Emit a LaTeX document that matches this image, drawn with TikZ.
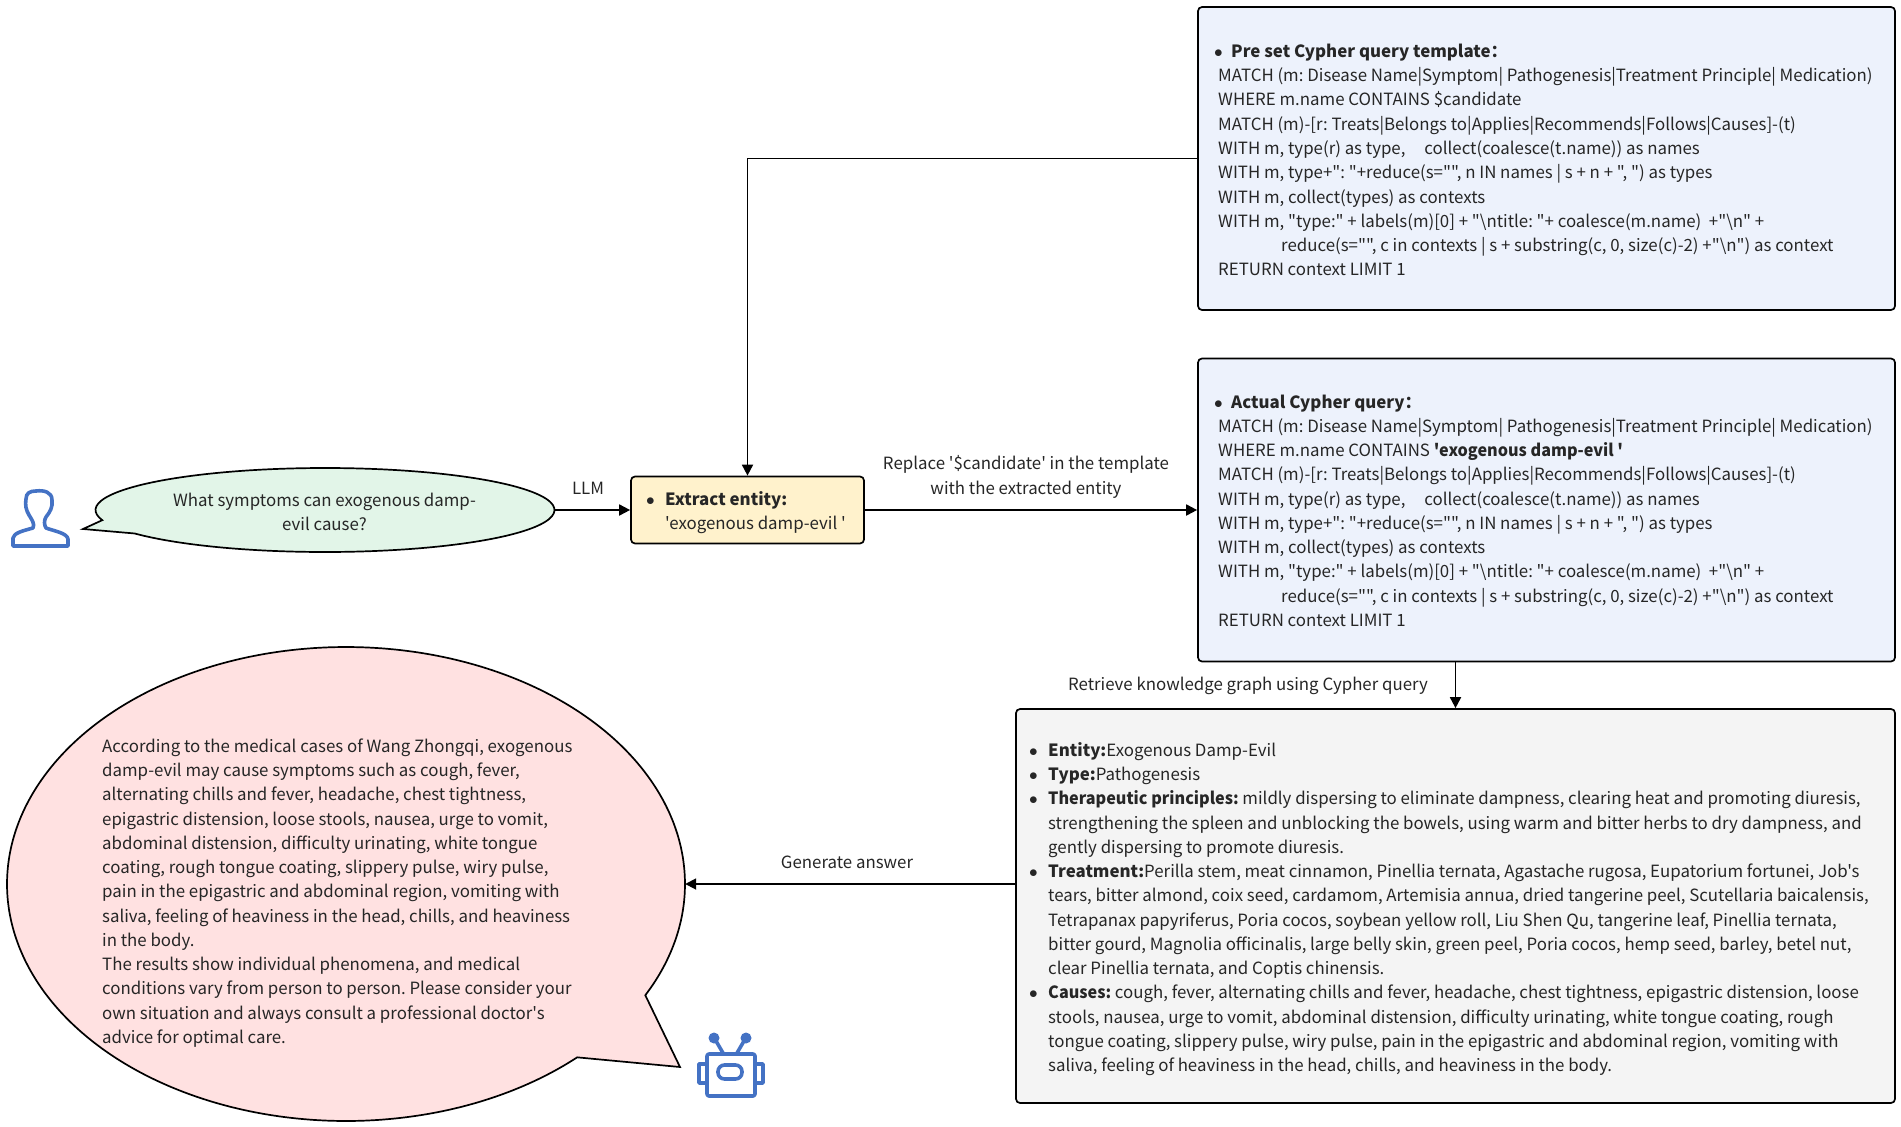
\documentclass[tikz,border=0pt]{standalone}
\usepackage{fontspec}
\setmainfont[Ligatures=TeXOff]{Noto Sans CJK SC}
\usetikzlibrary{arrows.meta,shapes.geometric,calc}
\definecolor{icon}{HTML}{4472C4}
\definecolor{ink}{HTML}{262626}
\definecolor{fgreen}{HTML}{E2F5E8}
\definecolor{fyellow}{HTML}{FFF2CC}
\definecolor{fblue}{HTML}{EDF2FC}
\definecolor{fgray}{HTML}{F4F4F4}
\definecolor{fpink}{HTML}{FFE1E1}
\newcommand{\bul}[1]{\makebox[#1][l]{$\bullet$}}
\newcommand{\hangln}{\hspace*{19pt}}
\newcommand{\bs}{\textbackslash}
\newcommand{\narrowbold}[1]{\scalebox{.96}[1]{\textbf{#1}}}
\tikzset{
  panel/.style={draw=black,line width=1.7pt,rounded corners=4pt,inner sep=0pt},
  txt/.style={text=ink,inner sep=0pt,align=left,font=\fontsize{16.85}{24.25}\selectfont\frenchspacing},
  ctxt/.style={text=ink,inner sep=0pt,align=center,font=\fontsize{16.85}{24.25}\selectfont\frenchspacing},
  flow/.style={draw=black,line width=1.8pt,-{Triangle[length=11pt,width=11pt]}},
  balloon/.style={draw=black,line width=1.7pt},
  pic line/.style={draw=icon,line width=3.6pt,line join=round,line cap=round},
  anchorshape/.style={ellipse,inner sep=0pt,draw=none}
}
\begin{document}
\begin{tikzpicture}[x=1pt,y=-1pt]
\useasboundingbox (0,0) rectangle (1901,1127);
% balloons
\draw[balloon,fill=fgreen] plot[smooth,domain=166:506,samples=90] ({325+229.5*cos(\x)},{510+42*sin(\x)}) -- (83,529) -- cycle;
\draw[balloon,fill=fpink] plot[smooth,domain=47:388,samples=120] ({346+339*cos(\x)},{884+237*sin(\x)}) -- (680,1067) -- cycle;
\node[anchorshape,minimum width=459pt,minimum height=84pt] (ask) at (325,510) {};
\node[anchorshape,minimum width=678pt,minimum height=474pt] (answer) at (346,884) {};
\node[ctxt] (asktext) at (324.5,512) {What symptoms can exogenous damp-\\evil cause?};
\node[txt,anchor=west] (anstext) at (102,893) {According to the medical cases of Wang Zhongqi, exogenous\\
damp-evil may cause symptoms such as cough, fever,\\
alternating chills and fever, headache, chest tightness,\\
epigastric distension, loose stools, nausea, urge to vomit,\\
abdominal distension, difficulty urinating, white tongue\\
coating, rough tongue coating, slippery pulse, wiry pulse,\\
pain in the epigastric and abdominal region, vomiting with\\
saliva, feeling of heaviness in the head, chills, and heaviness\\
in the body.\\
The results show individual phenomena, and medical\\
conditions vary from person to person. Please consider your\\
own situation and always consult a professional doctor's\\
advice for optimal care.};
% panels
\node[panel,fill=fyellow,minimum width=233pt,minimum height=67pt] (entity) at (747.5,510) {};
\node[panel,fill=fblue,minimum width=697pt,minimum height=303pt] (tmpl) at (1546.5,158.5) {};
\node[panel,fill=fblue,minimum width=697pt,minimum height=303pt] (actual) at (1546.5,510) {};
\node[panel,fill=fgray,minimum width=879pt,minimum height=394pt] (kg) at (1455.5,906) {};
\node[txt,anchor=west] (entitytext) at (646,512.5) {\bul{19pt}\textbf{Extract entity:}\\\hangln'exogenous damp-evil '};
\node[txt,anchor=west] (tmpltext) at (1214,160) {\bul{17pt}\textbf{Pre set Cypher query template：}\\
\hspace*{4pt}MATCH (m: Disease Name|Symptom| Pathogenesis|Treatment Principle| Medication)\\
\hspace*{4pt}WHERE m.name CONTAINS \$candidate\\
\hspace*{4pt}MATCH (m)-[r: Treats|Belongs to|Applies|Recommends|Follows|Causes]-(t)\\
\hspace*{4pt}WITH m, type(r) as type,\hspace{19pt}collect(coalesce(t.name)) as names\\
\hspace*{4pt}WITH m, type+": "+reduce(s="", n IN names | s + n + ", ") as types\\
\hspace*{4pt}WITH m, collect(types) as contexts\\
\hspace*{4pt}WITH m, "type:" + labels(m)[0] + "\bs ntitle: "+ coalesce(m.name)\ \ +"\bs n" +\\
\hspace*{67pt}reduce(s="", c in contexts | s + substring(c, 0, size(c)-2) +"\bs n") as context\\
\hspace*{4pt}RETURN context LIMIT 1};
\node[txt,anchor=west] (actualtext) at (1214,510.5) {\bul{17pt}\textbf{Actual Cypher query：}\\
\hspace*{4pt}MATCH (m: Disease Name|Symptom| Pathogenesis|Treatment Principle| Medication)\\
\hspace*{4pt}WHERE m.name CONTAINS \narrowbold{'exogenous damp-evil '}\\
\hspace*{4pt}MATCH (m)-[r: Treats|Belongs to|Applies|Recommends|Follows|Causes]-(t)\\
\hspace*{4pt}WITH m, type(r) as type,\hspace{19pt}collect(coalesce(t.name)) as names\\
\hspace*{4pt}WITH m, type+": "+reduce(s="", n IN names | s + n + ", ") as types\\
\hspace*{4pt}WITH m, collect(types) as contexts\\
\hspace*{4pt}WITH m, "type:" + labels(m)[0] + "\bs ntitle: "+ coalesce(m.name)\ \ +"\bs n" +\\
\hspace*{67pt}reduce(s="", c in contexts | s + substring(c, 0, size(c)-2) +"\bs n") as context\\
\hspace*{4pt}RETURN context LIMIT 1};
\node[txt,anchor=west] (kgtext) at (1029,909) {\bul{19pt}\textbf{Entity:}Exogenous Damp-Evil\\
\bul{19pt}\textbf{Type:}Pathogenesis\\
\bul{19pt}\narrowbold{Therapeutic principles:} mildly dispersing to eliminate dampness, clearing heat and promoting diuresis,\\
\hangln strengthening the spleen and unblocking the bowels, using warm and bitter herbs to dry dampness, and\\
\hangln gently dispersing to promote diuresis.\\
\bul{19pt}\textbf{Treatment:}Perilla stem, meat cinnamon, Pinellia ternata, Agastache rugosa, Eupatorium fortunei, Job's\\
\hangln tears, bitter almond, coix seed, cardamom, Artemisia annua, dried tangerine peel, Scutellaria baicalensis,\\
\hangln Tetrapanax papyriferus, Poria cocos, soybean yellow roll, Liu Shen Qu, tangerine leaf, Pinellia ternata,\\
\hangln bitter gourd, Magnolia officinalis, large belly skin, green peel, Poria cocos, hemp seed, barley, betel nut,\\
\hangln clear Pinellia ternata, and Coptis chinensis.\\
\bul{19pt}\narrowbold{Causes:} cough, fever, alternating chills and fever, headache, chest tightness, epigastric distension, loose\\
\hangln stools, nausea, urge to vomit, abdominal distension, difficulty urinating, white tongue coating, rough\\
\hangln tongue coating, slippery pulse, wiry pulse, pain in the epigastric and abdominal region, vomiting with\\
\hangln saliva, feeling of heaviness in the head, chills, and heaviness in the body.};
% connectors
\draw[flow] (ask.east) -- (entity.west);
\draw[flow] (entity.east) -- (actual.west);
\draw[flow] (tmpl.west) -| (entity.north);
\draw[flow] (actual.south -| kg.north) -- (kg.north);
\draw[flow] (kg.west |- answer.east) -- (answer.east);
% labels
\node[ctxt] (llm) at (588,488) {LLM};
\node[ctxt] (replace) at (1026,477) {Replace '\$candidate' in the template\\with the extracted entity};
\node[ctxt] (retrieve) at (1248,686) {Retrieve knowledge graph using Cypher query};
\node[ctxt] (generate) at (847,862) {Generate answer};
% user icon
\draw[pic line] (13,546) -- (13,538) .. controls (14,533) and (22,531) .. (33,528)
  .. controls (35,524) and (32,520) .. (29,515) .. controls (26,510) and (25,505) .. (26,499)
  .. controls (26,493) and (30,491) .. (36,491) .. controls (44,490) and (52,492) .. (52,500)
  .. controls (53,507) and (50,512) .. (46,517) .. controls (44,520) and (44,525) .. (46,528)
  .. controls (54,531) and (67,533) .. (68,539) -- (68,546) -- cycle;
% robot icon
\draw[pic line,rounded corners=2pt] (707,1054) rectangle (755,1096);
\draw[pic line,line cap=butt] (706,1064) -- (699,1064) -- (699,1083) -- (706,1083);
\draw[pic line,line cap=butt] (756,1064) -- (763,1064) -- (763,1083) -- (756,1083);
\draw[pic line,rounded corners=6.5pt] (718,1065) rectangle (742,1079);
\draw[pic line,line cap=butt] (716,1041) -- (723,1053);
\draw[pic line,line cap=butt] (744,1041) -- (737,1053);
\fill[icon] (714,1038) circle (5.5pt) (746,1038) circle (5.5pt);
\end{tikzpicture}
\end{document}
